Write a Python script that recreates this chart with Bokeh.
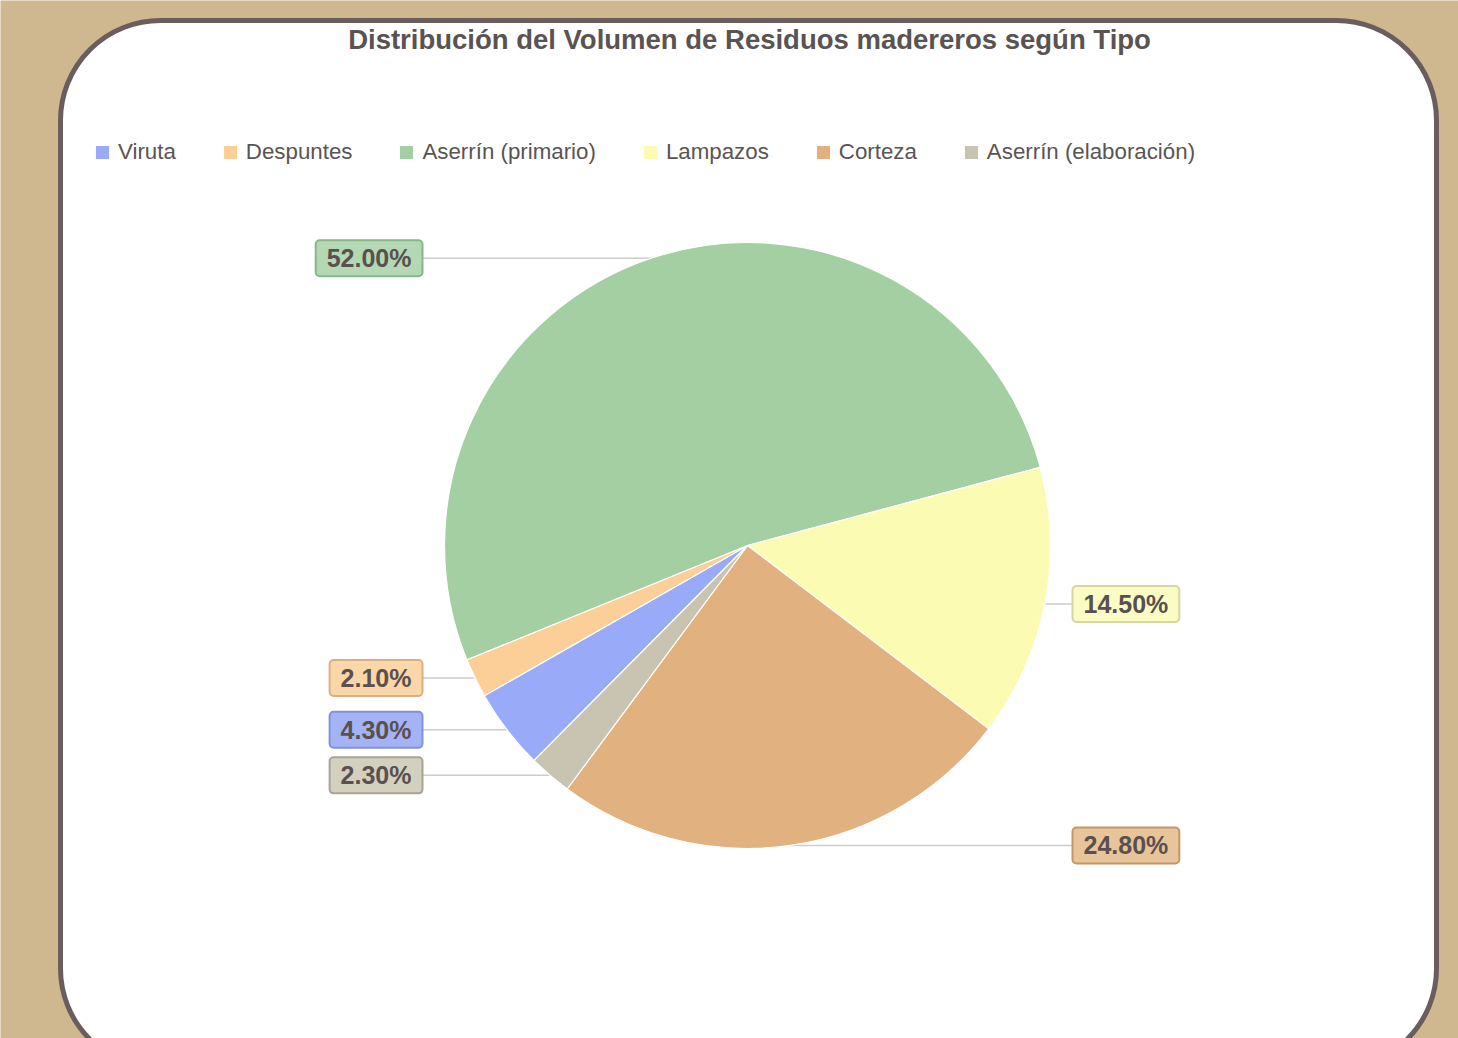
import math
from bokeh.plotting import figure
from bokeh.models import ColumnDataSource, Range1d, BoxAnnotation, Label, Legend, LegendItem
from bokeh.embed import file_html
from bokeh.resources import INLINE
from bokeh.core.properties import value

# ---- data ----
categories = ["Viruta", "Despuntes", "Aserrín (primario)", "Lampazos", "Corteza", "Aserrín (elaboración)"]
percentages = [4.3, 2.1, 52.0, 14.5, 24.8, 2.3]
label_texts = ["4.30%", "2.10%", "52.00%", "14.50%", "24.80%", "2.30%"]

# ---- styles ----
slice_colors = ["#98AAF8", "#FDCF98", "#A3CFA3", "#FBFBB4", "#E1B27F", "#C9C4B2"]
label_fills = ["#A3B3F6", "#FBD6A8", "#B3D8B3", "#FBFBC4", "#E8C49A", "#D4D0C0"]
label_borders = ["#8193D8", "#D8B081", "#8AB58A", "#D6D6A0", "#C49664", "#A8A393"]

W, H = 1458, 1038
CX, CY, R = 747, 493, 303
START = 225.2
LEFT_LABEL_X, RIGHT_LABEL_X = 422, 1072

total = sum(percentages)
starts, ends, mids = [], [], []
acc = 0.0
for v in percentages:
    a0 = START - 360.0 * acc / total
    acc += v
    a1 = START - 360.0 * acc / total
    starts.append(math.radians(a0))
    ends.append(math.radians(a1))
    mids.append(math.radians((a0 + a1) / 2))

ex = [CX + R * math.cos(m) for m in mids]
ey = [CY + R * math.sin(m) for m in mids]
lx = [LEFT_LABEL_X if math.cos(m) < 0 else RIGHT_LABEL_X for m in mids]
anchors = ["center_right" if math.cos(m) < 0 else "center_left" for m in mids]

src = ColumnDataSource(dict(
    cat=categories, pct=percentages, label=label_texts,
    start=starts, end=ends, ex=ex, ey=ey, lx=lx, anchor=anchors,
    color=slice_colors, lfill=label_fills, lborder=label_borders,
))

p = figure(width=W, height=H, output_backend="svg", toolbar_location=None,
           x_range=Range1d(0, W), y_range=Range1d(0, H),
           x_axis_type=None, y_axis_type=None, min_border=0)
p.background_fill_color = "#CFB78F"
p.border_fill_color = "#CFB78F"
p.outline_line_color = None

card = BoxAnnotation(left=60, right=1436, top=1018, bottom=-30,
                     fill_color="white", fill_alpha=1.0,
                     line_color="#6A5D5D", line_width=5, line_alpha=1.0,
                     border_radius=100, level="underlay")
p.add_layout(card)

p.segment(x0="ex", y0="ey", x1="lx", y1="ey", source=src,
          line_color="#CDCDCD", line_width=1.5)

wr = p.wedge(x=CX, y=CY, radius=R, start_angle="start", end_angle="end",
             direction="clock", source=src, fill_color="color",
             line_color="white", line_width=1.2)

p.text(x="lx", y="ey", text="label", source=src, anchor="anchor",
       text_font=value("Liberation Sans"), text_font_style="bold",
       text_font_size="25px", text_color="#5A5050",
       background_fill_color="lfill", border_line_color="lborder",
       border_line_width=2, padding=(11, 4), border_radius=4)

title = Label(x=749, y=999, text="Distribución del Volumen de Residuos madereros según Tipo",
              text_align="center", text_baseline="middle",
              text_font="Liberation Sans", text_font_style="bold",
              text_font_size="27.5px", text_color="#595353")
p.add_layout(title)

legend = Legend(items=[LegendItem(label=c, renderers=[wr], index=i) for i, c in enumerate(categories)],
                orientation="horizontal", location=(93, 873), spacing=45,
                label_standoff=7, glyph_width=18, glyph_height=18,
                label_text_font="Liberation Sans", label_text_font_size="22.3px",
                label_text_color="#5A5454", padding=0, margin=0,
                border_line_color=None, background_fill_alpha=0)
p.add_layout(legend)

open("out.html", "w").write(file_html(p, INLINE))
